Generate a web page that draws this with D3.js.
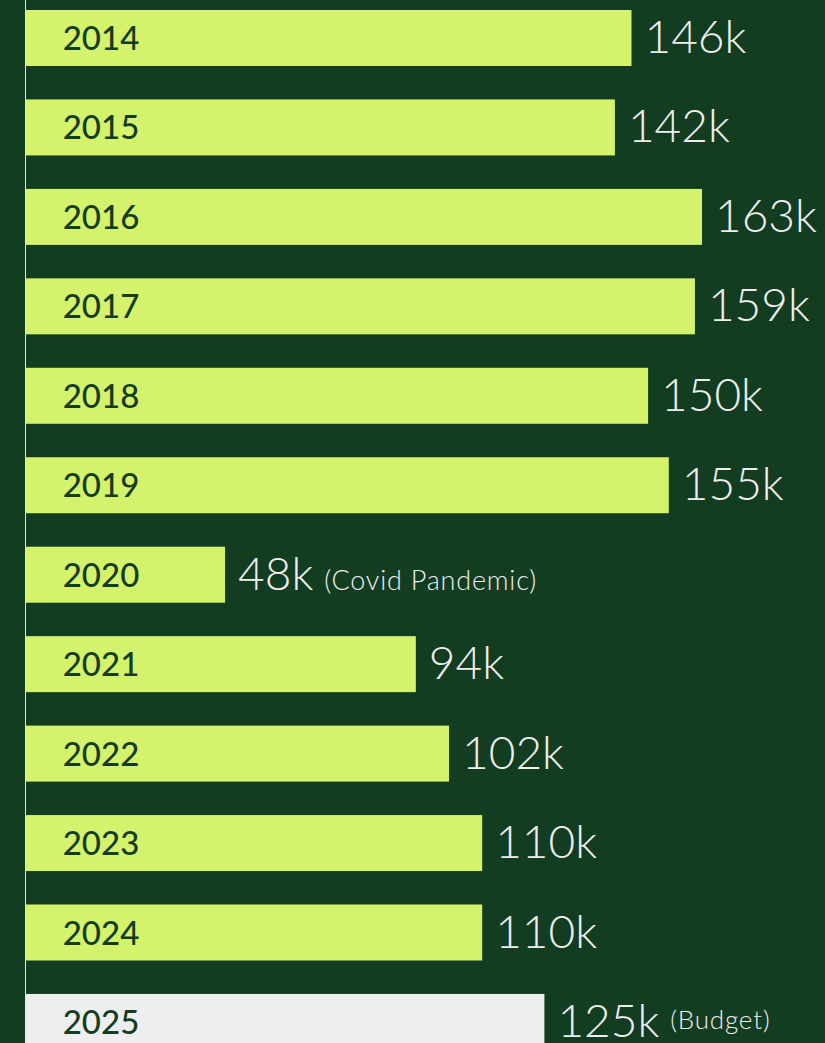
<!DOCTYPE html>
<html>
<head>
<meta charset="utf-8">
<script src="https://cdn.jsdelivr.net/npm/d3@7"></script>
<style>
  html, body { margin: 0; padding: 0; background: #133d21; }
  svg { display: block; }
</style>
</head>
<body>
<div id="chart"></div>
<script>
// data (bar lengths as drawn, labels as printed)
const years = ["2014", "2015", "2016", "2017", "2018", "2019", "2020", "2021", "2022", "2023", "2024", "2025"];
const values = [146, 142, 163, 161.3, 150, 155, 48, 94, 102, 110, 110, 125];
const valueLabels = ["146k", "142k", "163k", "159k", "150k", "155k", "48k", "94k", "102k", "110k", "110k", "125k"];
const notes = ["", "", "", "", "", "", "(Covid Pandemic)", "", "", "", "", "(Budget)"];

const width = 825, height = 1043;
const bg = "#133d21", barColor = "#d4f26c", budgetColor = "#eeeeee";

const data = years.map((y, i) => ({ year: y, value: values[i], label: valueLabels[i], note: notes[i] }));

const svg = d3.select("#chart")
    .append("svg")
    .attr("width", width)
    .attr("height", height);

svg.append("rect")
    .attr("width", width)
    .attr("height", height)
    .attr("fill", bg);

// scales
const x = d3.scaleLinear()
    .domain([0, 163])
    .range([26, 702]);

const y = d3.scaleBand()
    .domain(years)
    .range([10, 10 + 11 * 89.45 + 56])
    .paddingInner(0.374)
    .paddingOuter(0);

// baseline line on the left
svg.append("line")
    .attr("x1", 25.5).attr("x2", 25.5)
    .attr("y1", 0).attr("y2", height)
    .attr("stroke", "#dfe6df")
    .attr("stroke-width", 1);

// bars
svg.selectAll(".bar")
    .data(data)
    .join("rect")
    .attr("class", "bar")
    .attr("x", x(0))
    .attr("y", d => y(d.year))
    .attr("width", d => x(d.value) - x(0))
    .attr("height", y.bandwidth())
    .attr("fill", d => d.year === "2025" ? budgetColor : barColor);

// year labels inside bars
svg.selectAll(".year")
    .data(data)
    .join("text")
    .attr("class", "year")
    .attr("x", 101)
    .attr("y", d => y(d.year) + y.bandwidth() / 2 + 12)
    .attr("text-anchor", "middle")
    .attr("font-family", "Lato, sans-serif")
    .attr("font-weight", 500)
    .attr("font-size", 33)
    .attr("fill", bg)
    .text(d => d.year);

// value labels
const labels = svg.selectAll(".val")
    .data(data)
    .join("text")
    .attr("class", "val")
    .attr("x", d => x(d.value) + 13)
    .attr("y", d => y(d.year) + y.bandwidth() / 2 + 15)
    .attr("font-family", "Lato, sans-serif")
    .attr("font-weight", 300)
    .attr("fill", "#eeeeee");

labels.append("tspan")
    .attr("font-size", 46)
    .text(d => d.label);

// the budget note sits a little higher than the value
labels.append("tspan")
    .attr("font-size", d => d.year === "2025" ? 26 : 27)
    .attr("letter-spacing", 0.8)
    .attr("dx", 11)
    .attr("dy", d => d.year === "2025" ? -8 : 0)
    .text(d => d.note);
</script>
</body>
</html>
